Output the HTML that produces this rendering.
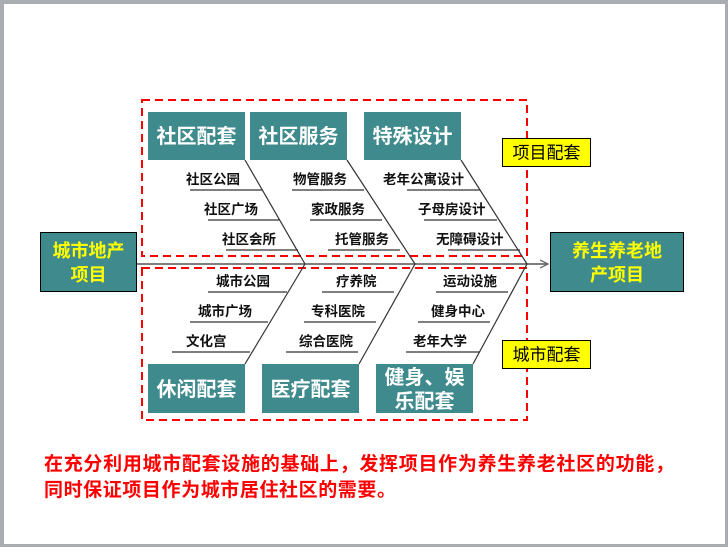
<!DOCTYPE html>
<html><head><meta charset="utf-8"><style>
html,body{margin:0;padding:0;background:#fff}
body{width:728px;height:547px;overflow:hidden}
svg text{font-family:"Liberation Sans","Noto Sans CJK SC",sans-serif}
</style></head><body>
<svg width="728" height="547" viewBox="0 0 728 547" xmlns="http://www.w3.org/2000/svg">
<rect x="0" y="0" width="728" height="547" fill="#a9acb0"/>
<rect x="4" y="4" width="721" height="540" fill="#fff"/>
<rect x="142" y="100" width="385" height="156" fill="none" stroke="#f00" stroke-width="2" stroke-dasharray="8,5"/>
<rect x="142" y="268" width="385" height="152" fill="none" stroke="#f00" stroke-width="2" stroke-dasharray="8,5"/>
<line x1="137" y1="264" x2="546" y2="264" stroke="#555" stroke-width="1.5"/>
<polyline points="540,260 548,264 540,268" fill="none" stroke="#555" stroke-width="1.2"/>
<g stroke="#333" stroke-width="1.2" fill="none">
<line x1="245" y1="160" x2="305" y2="264"/><line x1="347" y1="160" x2="415" y2="264"/><line x1="461" y1="160" x2="527" y2="264"/>
<line x1="245" y1="364" x2="305" y2="264"/><line x1="359" y1="364" x2="415" y2="264"/><line x1="473" y1="364" x2="527" y2="264"/>
<line x1="190" y1="190" x2="262" y2="190"/><line x1="208" y1="220" x2="280" y2="220"/><line x1="226" y1="250" x2="298" y2="250"/>
<line x1="292" y1="190" x2="364" y2="190"/><line x1="310" y1="220" x2="382" y2="220"/><line x1="328" y1="250" x2="400" y2="250"/>
<line x1="407" y1="190" x2="480" y2="190"/><line x1="424" y1="220" x2="497" y2="220"/><line x1="448" y1="250" x2="520" y2="250"/>
<line x1="208" y1="292" x2="287" y2="292"/><line x1="190" y1="322" x2="268" y2="322"/><line x1="172" y1="352" x2="250" y2="352"/>
<line x1="322" y1="292" x2="394" y2="292"/><line x1="304" y1="322" x2="376" y2="322"/><line x1="286" y1="352" x2="358" y2="352"/>
<line x1="436" y1="292" x2="508" y2="292"/><line x1="418" y1="322" x2="490" y2="322"/><line x1="406" y1="352" x2="480" y2="352"/>
</g>
<g font-size="13.5" font-weight="bold" fill="#111">
<text x="186" y="184">社区公园</text><text x="204" y="214">社区广场</text><text x="222" y="244">社区会所</text>
<text x="293" y="184">物管服务</text><text x="311" y="214">家政服务</text><text x="335" y="244">托管服务</text>
<text x="383" y="184">老年公寓设计</text><text x="418" y="214">子母房设计</text><text x="436" y="244">无障碍设计</text>
<text x="216" y="286">城市公园</text><text x="198" y="316">城市广场</text><text x="186" y="346">文化宫</text>
<text x="336" y="286">疗养院</text><text x="311" y="316">专科医院</text><text x="299" y="346">综合医院</text>
<text x="443" y="286">运动设施</text><text x="431" y="316">健身中心</text><text x="413" y="346">老年大学</text>
</g>
<g fill="#3f8a8c">
<rect x="148" y="112" width="97" height="48"/><rect x="250" y="112" width="97" height="48"/><rect x="364" y="112" width="97" height="48"/>
<rect x="148" y="364" width="97" height="49"/><rect x="262" y="364" width="97" height="49"/><rect x="376" y="364" width="97" height="49"/>
</g>
<g font-size="20" font-weight="bold" fill="#fff" text-anchor="middle">
<text x="196.5" y="143">社区配套</text><text x="298.5" y="143">社区服务</text><text x="412.5" y="143">特殊设计</text>
<text x="196.5" y="396">休闲配套</text><text x="310.5" y="396">医疗配套</text>
<text x="424.5" y="384">健身、娱</text><text x="424.5" y="408">乐配套</text>
</g>
<rect x="40.5" y="232.5" width="96" height="59" fill="#3f8a8c" stroke="#000" stroke-width="1"/>
<rect x="550.5" y="232.5" width="133" height="59" fill="#3f8a8c" stroke="#000" stroke-width="1"/>
<g font-size="18" font-weight="bold" fill="#ffff00" text-anchor="middle">
<text x="88.5" y="257">城市地产</text><text x="88.5" y="281">项目</text>
<text x="617" y="257">养生养老地</text><text x="617" y="281">产项目</text>
</g>
<rect x="502.5" y="138.5" width="88" height="28" fill="#ffff00" stroke="#000"/>
<rect x="502.5" y="340.5" width="88" height="28" fill="#ffff00" stroke="#000"/>
<g font-size="17" fill="#000" text-anchor="middle">
<text x="546.5" y="158.5">项目配套</text><text x="546.5" y="360.5">城市配套</text>
</g>
<g font-size="19" font-weight="bold" fill="#f00">
<text x="44" y="470" textLength="630" lengthAdjust="spacing">在充分利用城市配套设施的基础上，发挥项目作为养生养老社区的功能，</text>
<text x="44" y="496" textLength="352" lengthAdjust="spacing">同时保证项目作为城市居住社区的需要。</text>
</g>
</svg>
</body></html>
